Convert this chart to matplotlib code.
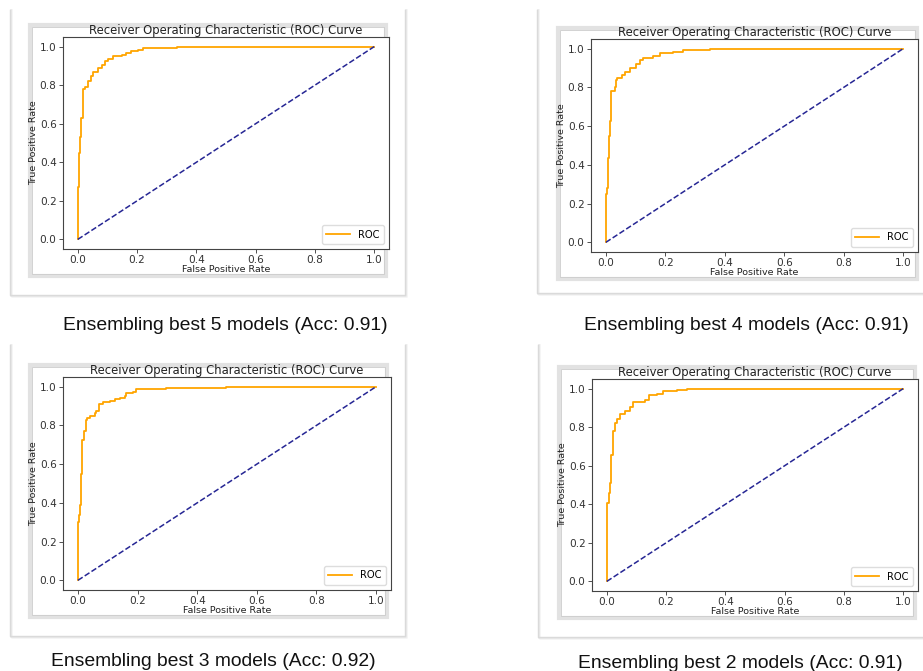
import numpy as np
import matplotlib
matplotlib.use("Agg")
import matplotlib.pyplot as plt
from matplotlib.patches import Rectangle
from matplotlib.lines import Line2D

# ROC points (fpr, tpr)
fpr_5 = [0, 0, 0.004, 0.007, 0.012, 0.016, 0.024, 0.035, 0.043, 0.052, 0.069, 0.080,
         0.091, 0.102, 0.119, 0.148, 0.164, 0.181, 0.204, 0.221, 0.333, 0.513, 1.0]
tpr_5 = [0, 0.27, 0.45, 0.53, 0.63, 0.78, 0.79, 0.82, 0.85, 0.87, 0.89, 0.905,
         0.925, 0.935, 0.95, 0.958, 0.967, 0.976, 0.984, 0.992, 0.997, 1.0, 1.0]

fpr_4 = [0, 0, 0.0045, 0.008, 0.010, 0.013, 0.017, 0.030, 0.034, 0.038, 0.053, 0.064,
         0.081, 0.103, 0.114, 0.125, 0.159, 0.181, 0.226, 0.26, 0.349, 0.438, 1.0]
tpr_4 = [0, 0.247, 0.28, 0.436, 0.548, 0.626, 0.78, 0.80, 0.84, 0.85, 0.862, 0.88,
         0.90, 0.92, 0.94, 0.953, 0.962, 0.98, 0.985, 0.993, 0.997, 1.0, 1.0]

fpr_3 = [0, 0, 0.003, 0.006, 0.011, 0.015, 0.019, 0.026, 0.030, 0.039, 0.056, 0.062, 0.070,
         0.084, 0.106, 0.123, 0.140, 0.157, 0.162, 0.185, 0.196, 0.230, 0.297, 0.498, 1.0]
tpr_3 = [0, 0.30, 0.337, 0.39, 0.55, 0.727, 0.77, 0.83, 0.84, 0.85, 0.865, 0.875, 0.908,
         0.92, 0.926, 0.938, 0.943, 0.95, 0.965, 0.972, 0.986, 0.99, 0.995, 1.0, 1.0]

fpr_2 = [0, 0, 0.002, 0.008, 0.011, 0.0135, 0.020, 0.028, 0.036, 0.045, 0.062, 0.077,
         0.090, 0.118, 0.130, 0.141, 0.169, 0.191, 0.236, 0.27, 0.417, 1.0]
tpr_2 = [0, 0.283, 0.405, 0.457, 0.51, 0.657, 0.78, 0.823, 0.84, 0.866, 0.883, 0.904,
         0.93, 0.93, 0.94, 0.965, 0.974, 0.988, 0.993, 0.997, 1.0, 1.0]

captions = ["Ensembling best 5 models (Acc: 0.91)", "Ensembling best 4 models (Acc: 0.91)",
            "Ensembling best 3 models (Acc: 0.92)", "Ensembling best 2 models (Acc: 0.91)"]
curves = [(fpr_5, tpr_5), (fpr_4, tpr_4), (fpr_3, tpr_3), (fpr_2, tpr_2)]

W, H = 923, 671
fig = plt.figure(figsize=(W / 100, H / 100), dpi=100)
fig.patch.set_facecolor("white")

# layout in pixels: axes box, inner screenshot frame, outer frame, caption centre
axes_px = [(63, 37, 326, 212), (591, 39, 327, 213), (63, 377, 328, 213), (592, 379, 326, 212)]
inner_px = [(30, 25, 386, 276), (558, 28, 917, 279), (30, 365, 387, 617), (559, 367, 915, 618)]
outer_px = [(10, 10, 405, 295), (537, 10, 930, 293), (10, 345, 405, 636), (538, 345, 930, 637)]
cap_px = [(225, 325), (746, 325), (213, 662), (740, 663)]


def fx(x):
    return x / W


def fy(y):
    return 1 - y / H


for (x0, y0, x1, y1) in outer_px:
    # soft shadowed frame, top edge cut off in the screenshots
    for off, c in [(2, "#f3f3f3"), (1, "#e8e8e8")]:
        fig.add_artist(Line2D([fx(x0 + off), fx(x0 + off), fx(x1 + off), fx(x1 + off)],
                              [fy(y0), fy(y1 + off), fy(y1 + off), fy(y0)],
                              color=c, lw=1.2, transform=fig.transFigure, zorder=-3))
    fig.add_artist(Line2D([fx(x0), fx(x0), fx(x1), fx(x1)], [fy(y0), fy(y1), fy(y1), fy(y0)],
                          color="#dadada", lw=1.0, transform=fig.transFigure, zorder=-3))

for (x0, y0, x1, y1) in inner_px:
    fig.add_artist(Rectangle((fx(x0), fy(y1)), fx(x1 - x0), (y1 - y0) / H,
                             transform=fig.transFigure, facecolor="white",
                             edgecolor="#e2e2e2", lw=3.0, zorder=-2))
    fig.add_artist(Rectangle((fx(x0 + 2), fy(y1 - 2)), fx(x1 - x0 - 4), (y1 - y0 - 4) / H,
                             transform=fig.transFigure, facecolor="none",
                             edgecolor="#cccccc", lw=0.6, zorder=-2))

for (l, t, w, h), (fpr, tpr), cap, (cx, cy) in zip(axes_px, curves, captions, cap_px):
    ax = fig.add_axes([fx(l), fy(t + h), w / W, h / H])
    ax.plot(fpr, tpr, color="orange", lw=1.3, drawstyle="steps-post", label="ROC")
    ax.plot([0, 1], [0, 1], color="#262694", lw=1.1, linestyle="--")
    ax.set_xticks(np.arange(0, 1.01, 0.2))
    ax.set_yticks(np.arange(0, 1.01, 0.2))
    ax.tick_params(labelsize=7.6, length=2.8, width=0.6, pad=1.8, colors="#333333")
    for s in ax.spines.values():
        s.set_color("#444444")
        s.set_linewidth(0.8)
    ax.set_title("Receiver Operating Characteristic (ROC) Curve", fontsize=8.4, pad=2.5,
                 color="#222222")
    ax.set_xlabel("False Positive Rate", fontsize=6.8, labelpad=0.0, color="#222222")
    ax.set_ylabel("True Positive Rate", fontsize=6.8, labelpad=1.0, color="#222222")
    ax.legend(loc="lower right", fontsize=7.2, handlelength=2.4, borderpad=0.45,
              framealpha=1.0, edgecolor="#dddddd")
    fig.text(fx(cx), fy(cy), cap, ha="center", va="center", fontsize=13.9,
             family="Liberation Sans", color="#111111")

fig.savefig("out.png", dpi=100)
